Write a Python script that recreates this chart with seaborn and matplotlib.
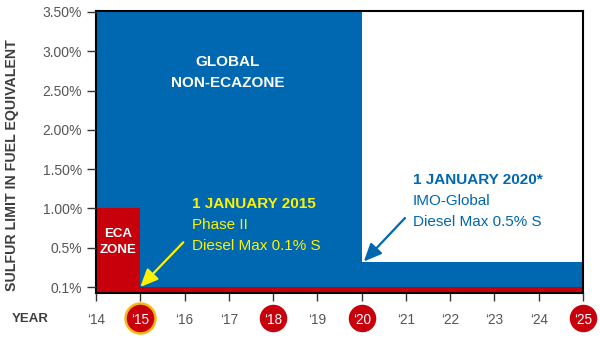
import numpy as np
import matplotlib
matplotlib.use("Agg")
import matplotlib.pyplot as plt
import seaborn as sns

# ---------------- data ----------------
year_edges = [14, 15, 20, 25]                 # step boundaries (year '14 .. '25)
global_limit = [3.5, 3.5, 0.35, 0.35]         # % sulfur, global / non-ECA zone
eca_limit = [1.0, 0.1, 0.1, 0.1]              # % sulfur, ECA zone
year_ticks = list(range(14, 26))
year_labels = ["\u2018%d" % y for y in year_ticks]
highlight_years = [15, 18, 20, 25]
y_ticks = [0.1, 0.5, 1.0, 1.5, 2.0, 2.5, 3.0, 3.5]
y_labels = ["0.1%", "0.5%", "1.00%", "1.50%", "2.00%", "2.50%", "3.00%", "3.50%"]

BLUE = "#0067B1"
RED = "#C8000B"
YELLOW = "#FFF200"
RING = "#F7B718"

sns.set_theme(style="ticks")
plt.rcParams["font.family"] = ["Liberation Sans", "DejaVu Sans"]

W, H = 600, 338
fig = plt.figure(figsize=(W / 100, H / 100), dpi=100)
L, R, T, B = 96, 583, 11, 293
ax = fig.add_axes([L / W, 1 - B / H, (R - L) / W, (B - T) / H])


def fwd(v):
    v = np.asarray(v, dtype=float)
    return np.where(v <= 0.5, (v - 0.1) / 0.4, 1 + (v - 0.5) / 0.5)


def inv(p):
    p = np.asarray(p, dtype=float)
    return np.where(p <= 1, 0.1 + 0.4 * p, 0.5 + 0.5 * (p - 1))


ax.set_yscale("function", functions=(fwd, inv))

ax.fill_between(year_edges, 0, global_limit, step="post", color=BLUE, lw=0, zorder=1)
ax.fill_between(year_edges, 0, eca_limit, step="post", color=RED, lw=0, zorder=1.1)

ax.set_xlim(14, 25)
ax.set_ylim(float(inv(-6 / 39.3)), float(inv(7 + 1 / 39.3)))
ax.set_xticks(year_ticks)
ax.set_xticklabels(year_labels)
ax.set_yticks(y_ticks)
ax.set_yticklabels(y_labels)
ax.minorticks_off()
ax.set_axisbelow(False)

for s in ax.spines.values():
    s.set_visible(True)
    s.set_color("black")
    s.set_linewidth(1.5)

ax.tick_params(axis="y", length=6.5, width=1, color="#333333", pad=3.6,
               labelsize=10, labelcolor="#555555")
ax.tick_params(axis="x", length=5.8, width=1, color="#333333", pad=8.5,
               labelsize=9.8, labelcolor="#555555")
for lab, yr in zip(ax.get_xticklabels(), year_ticks):
    if yr in highlight_years:
        lab.set_color("white")

# circles behind highlighted year labels
cy = (B - 317.5) / (B - T)
trans = ax.get_xaxis_transform()
ax.scatter([15], [cy], s=(32.5 * 0.72) ** 2, color=RING, transform=trans,
           clip_on=False, zorder=2, linewidths=0)
ax.scatter(highlight_years, [cy] * len(highlight_years), s=(27.5 * 0.72) ** 2,
           color=RED, transform=trans, clip_on=False, zorder=2.1, linewidths=0)


def ftext(px, py, s, **kw):
    fig.text(px / W, 1 - py / H, s, **kw)


bold = dict(fontweight="bold")
ftext(12, 165, "SULFUR LIMIT IN FUEL EQUIVALENT", rotation=90, ha="center",
      va="center", fontsize=10.2, color="#3d3d3d", **bold)
ftext(12, 322, "YEAR", ha="left", va="baseline", fontsize=9.5, color="#3d3d3d", **bold)

ftext(227.5, 66, "GLOBAL", ha="center", va="baseline", fontsize=11, color="white", **bold)
ftext(228, 86.7, "NON-ECAZONE", ha="center", va="baseline", fontsize=11, color="white", **bold)

ftext(118, 237, "ECA", ha="center", va="baseline", fontsize=9.5, color="white", **bold)
ftext(118, 253.3, "ZONE", ha="center", va="baseline", fontsize=9.5, color="white", **bold)

ftext(192, 208.3, "1 JANUARY 2015", ha="left", va="baseline", fontsize=11, color=YELLOW, **bold)
ftext(192, 229, "Phase II", ha="left", va="baseline", fontsize=11, color=YELLOW)
ftext(192, 249.8, "Diesel Max 0.1% S", ha="left", va="baseline", fontsize=11, color=YELLOW)

ftext(413, 184.3, "1 JANUARY 2020*", ha="left", va="baseline", fontsize=11, color=BLUE, **bold)
ftext(413, 205, "IMO-Global", ha="left", va="baseline", fontsize=11, color=BLUE)
ftext(413, 225.7, "Diesel Max 0.5% S", ha="left", va="baseline", fontsize=11, color=BLUE)

arrow_kw = dict(arrowstyle="-|>,head_length=0.9,head_width=0.4", lw=1.6,
                shrinkA=0, shrinkB=0, mutation_scale=12)
ax.annotate("", xy=(15.0, 0.1), xycoords="data",
            xytext=(183.3, H - 242.3), textcoords="figure pixels",
            arrowprops=dict(color=YELLOW, **arrow_kw), annotation_clip=False)
ax.annotate("", xy=(20.05, 0.36), xycoords="data",
            xytext=(405, H - 218), textcoords="figure pixels",
            arrowprops=dict(color=BLUE, **arrow_kw), annotation_clip=False)

fig.savefig("out.png", dpi=100)
